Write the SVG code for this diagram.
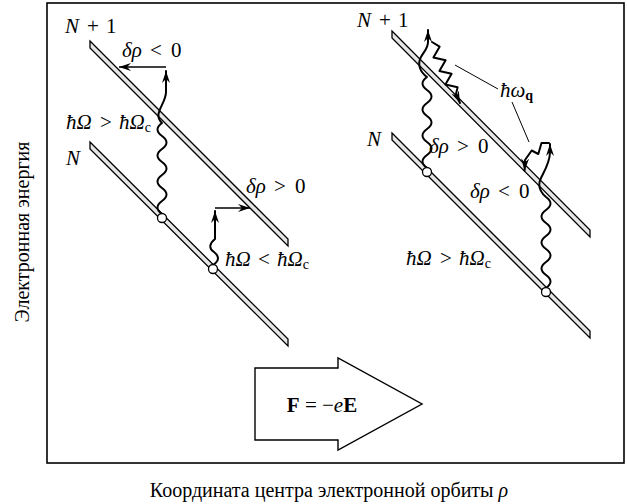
<svg xmlns="http://www.w3.org/2000/svg" width="627" height="504" viewBox="0 0 627 504" font-family="Liberation Serif, Times New Roman, serif">
<style>
text{font-family:"Liberation Serif","Times New Roman",serif;font-size:21px;fill:#000}
.i{font-style:italic}
.b{font-weight:bold}
.sub{font-size:14px}
.bar{fill:#e6e6e6;stroke:#000;stroke-width:1.3;stroke-linejoin:miter}
.ph{fill:none;stroke:#000;stroke-width:2;stroke-linejoin:round;stroke-linecap:round}
.thin{fill:none;stroke:#000;stroke-width:1.3}
.lead{fill:none;stroke:#000;stroke-width:1}
.dot{fill:#fff;stroke:#000;stroke-width:1.3}
</style>
<defs>
<marker id="ah" viewBox="-12 -5 13 10" refX="0" refY="0" markerWidth="13" markerHeight="10" markerUnits="userSpaceOnUse" orient="auto">
<path d="M0,0 L-12,-4 L-8,0 L-12,4 Z" fill="#000"/>
</marker>
</defs>
<rect x="47" y="3" width="577" height="460" fill="none" stroke="#000" stroke-width="1.6"/>
<g id="bars">
<polygon id="bar-left-N1" class="bar" points="90,41 288,239 288,246 90,48"/>
<polygon id="bar-left-N" class="bar" points="90,142 288,339 288,346 90,149"/>
<polygon id="bar-right-N1" class="bar" points="392,31 590,230 590,237 392,38"/>
<polygon id="bar-right-N" class="bar" points="392,133 590,331 590,338 392,140"/>
</g>
<g id="connectors">
<path class="ph" d="M162,214 q-9,-6.5 0,-13 t0,-13 t0,-13 t0,-13 t0,-13 t0,-13 t0,-13 C152,114 166,104 166,92 L166,71" marker-end="url(#ah)"/>
<path class="thin" d="M166,67 L119,67" marker-end="url(#ah)"/>
<path class="ph" d="M213,265 C220,260 219,256 214,252 C208,248 210,243 215,239 L215,211" marker-end="url(#ah)"/>
<path class="thin" d="M215,208 L250,208" marker-end="url(#ah)"/>
<path class="ph" d="M427,168 q-9,-6.5 0,-13 t0,-13 t0,-13 t0,-13 t0,-13 t0,-13 t0,-13 C420,72 417,64 421,57 C425,50 428,48 428,42 L428,30" marker-end="url(#ah)"/>
<path class="ph" d="M432,42 L439.6,46.7 L433.4,57.5 L445.6,60.2 L439.4,71 L451.6,73.7 L445.4,84.5 L457.6,87.2 L456,94 L460,103" marker-end="url(#ah)"/>
<path class="ph" d="M546,288 q9,-6.5 0,-13 t0,-13 t0,-13 t0,-13 t0,-13 t0,-13 t0,-13 C538,190 538,184 541,178 C545,170 550,162 550,152 L550,144" marker-end="url(#ah)"/>
<path class="ph" d="M549,143 L541.5,143 L538.3,154 L531.7,150.5 L525,160 L524.6,170.5" marker-end="url(#ah)"/>
<path class="lead" d="M455,65 L498,89"/>
<path class="lead" d="M512,102 L529,142"/>
</g>
<g id="states">
<circle class="dot" cx="162" cy="218" r="4.5"/>
<circle class="dot" cx="213" cy="269" r="4.5"/>
<circle class="dot" cx="427" cy="172" r="4.5"/>
<circle class="dot" cx="546" cy="292" r="4.5"/>
</g>
<g id="labels-left">
<text x="65" y="33"><tspan class="i">N</tspan><tspan x="87">+</tspan><tspan x="106">1</tspan></text>
<text x="122" y="57"><tspan class="i">δρ</tspan><tspan x="150">&lt;</tspan><tspan x="171">0</tspan></text>
<text x="66" y="129"><tspan class="i">ħΩ</tspan><tspan x="100">&gt;</tspan><tspan x="119" class="i">ħΩ</tspan><tspan class="sub" dy="3">c</tspan></text>
<text x="66" y="165" class="i">N</text>
<text x="246" y="193"><tspan class="i">δρ</tspan><tspan x="274">&gt;</tspan><tspan x="295">0</tspan></text>
<text x="225" y="266"><tspan class="i">ħΩ</tspan><tspan x="258">&lt;</tspan><tspan x="277" class="i">ħΩ</tspan><tspan class="sub" dy="3">c</tspan></text>
</g>
<g id="labels-right">
<text x="357" y="27"><tspan class="i">N</tspan><tspan x="379">+</tspan><tspan x="398">1</tspan></text>
<text x="500" y="97"><tspan class="i">ħω</tspan><tspan class="sub b" dy="3">q</tspan></text>
<text x="367" y="146" class="i">N</text>
<text x="429" y="153"><tspan class="i">δρ</tspan><tspan x="457">&gt;</tspan><tspan x="478">0</tspan></text>
<text x="470" y="198"><tspan class="i">δρ</tspan><tspan x="498">&lt;</tspan><tspan x="519">0</tspan></text>
<text x="406" y="265"><tspan class="i">ħΩ</tspan><tspan x="440">&gt;</tspan><tspan x="459" class="i">ħΩ</tspan><tspan class="sub" dy="3">c</tspan></text>
</g>
<g id="force-arrow">
<polygon points="255,368 338,368 338,358 422,404 338,450 338,440 255,440" fill="#fff" stroke="#000" stroke-width="1.4"/>
<text x="322" y="412" text-anchor="middle"><tspan class="b">F</tspan> = −<tspan class="i">e</tspan><tspan class="b">E</tspan></text>
</g>
<g id="axes">
<text transform="translate(29,232) rotate(-90)" text-anchor="middle" style="font-size:20px">Электронная энергия</text>
<text x="329" y="497" text-anchor="middle" style="font-size:20px">Координата центра электронной орбиты <tspan class="i">ρ</tspan></text>
</g>
</svg>
